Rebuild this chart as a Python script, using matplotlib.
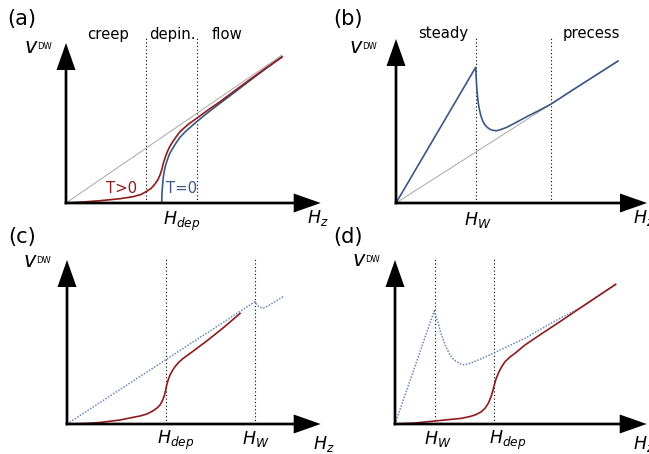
import matplotlib
matplotlib.use("Agg")
from matplotlib import pyplot as plt

# field / velocity values (arbitrary units, origin at axis corner)
# (a) creep / depinning / flow
a_lin_x = [0.0, 2.16]
a_lin_y = [0.0, 1.48]
a_hot_x = [0.0, 0.17, 0.34, 0.54, 0.67, 0.75, 0.80, 0.85, 0.89, 0.92, 0.94, 0.96, 0.973,
           0.99, 1.007, 1.03, 1.057, 1.10, 1.14, 1.22, 1.307, 1.42, 1.54, 1.69, 1.84, 2.0, 2.16]
a_hot_y = [0.0, 0.01, 0.023, 0.043, 0.063, 0.085, 0.113, 0.145, 0.19, 0.235, 0.28, 0.34, 0.397,
           0.45, 0.497, 0.55, 0.597, 0.66, 0.713, 0.785, 0.847, 0.93, 1.013, 1.125, 1.235, 1.35, 1.46]
a_cold_x = [0.957, 0.958, 0.96, 0.965, 0.972, 0.983, 0.997, 1.013, 1.035, 1.057, 1.10,
            1.14, 1.20, 1.307, 1.42, 1.54, 1.69, 1.84, 2.0, 2.16]
a_cold_y = [0.0, 0.05, 0.10, 0.17, 0.25, 0.32, 0.38, 0.43, 0.49, 0.53, 0.60,
            0.657, 0.72, 0.813, 0.905, 0.997, 1.11, 1.225, 1.345, 1.46]
a_bounds = [0.797, 1.313]

# (b) steady / precessional
b_lin_x = [0.0, 2.22]
b_lin_y = [0.0, 1.417]
b_v_x = [0.0, 0.797, 0.802, 0.807, 0.815, 0.823, 0.835, 0.847, 0.865, 0.89, 0.915, 0.94,
         0.97, 1.007, 1.05, 1.107, 1.20, 1.307, 1.42, 1.547, 1.74, 2.22]
b_v_y = [0.0, 1.357, 1.25, 1.163, 1.07, 0.997, 0.93, 0.88, 0.825, 0.78, 0.755, 0.737,
         0.726, 0.723, 0.735, 0.757, 0.805, 0.863, 0.92, 0.987, 1.113, 1.42]
b_bounds = [0.797, 1.547]

# (c) H_dep < H_W
c_flow_x = [0.0, 1.88, 1.90, 1.93, 1.963, 2.01, 2.17]
c_flow_y = [0.0, 1.223, 1.19, 1.165, 1.16, 1.18, 1.28]
c_hot_x = [0.0, 0.18, 0.33, 0.53, 0.663, 0.73, 0.80, 0.863, 0.90, 0.93, 0.95, 0.97,
           0.985, 0.997, 1.012, 1.03, 1.055, 1.08, 1.12, 1.163, 1.25, 1.397, 1.56, 1.73]
c_hot_y = [0.0, 0.005, 0.015, 0.04, 0.067, 0.08, 0.10, 0.133, 0.16, 0.19, 0.225, 0.273,
           0.33, 0.39, 0.44, 0.49, 0.535, 0.573, 0.62, 0.657, 0.72, 0.83, 0.96, 1.105]
c_bounds = [0.987, 1.88]

# (d) H_W < H_dep
d_flow_x = [0.0, 0.393, 0.41, 0.433, 0.455, 0.483, 0.515, 0.55, 0.585, 0.617, 0.65,
            0.683, 0.72, 0.767, 0.88, 0.993, 1.30, 1.60, 1.867, 2.207]
d_flow_y = [0.0, 1.133, 1.07, 1.007, 0.92, 0.84, 0.76, 0.69, 0.645, 0.623, 0.603,
            0.593, 0.598, 0.613, 0.66, 0.713, 0.857, 1.03, 1.17, 1.397]
d_hot_x = [0.0, 0.2, 0.40, 0.55, 0.667, 0.75, 0.80, 0.86, 0.90, 0.935, 0.96, 0.978,
           0.993, 1.01, 1.033, 1.065, 1.10, 1.15, 1.20, 1.30, 1.467, 1.667, 1.867, 2.207]
d_hot_y = [0.0, 0.01, 0.03, 0.045, 0.057, 0.075, 0.09, 0.12, 0.157, 0.21, 0.273, 0.33,
           0.39, 0.45, 0.507, 0.57, 0.623, 0.67, 0.707, 0.79, 0.903, 1.035, 1.17, 1.397]
d_bounds = [0.397, 0.993]

RED = "#8e1b1b"
BLUE = "#3b5788"
LIGHTBLUE = "#6a88b8"
GREY = "#9a9a9a"

fig = plt.figure(figsize=(6.49, 4.54), dpi=100)
W, H = 649.0, 454.0


def panel(px0, py0, ox, oy):
    # px0/py0: top-left pixel of the quarter, ox/oy: pixel of the axis corner
    ax = fig.add_axes([px0 / W, 1 - (py0 + 227) / H, 324.5 / W, 227 / H])
    ax.set_xlim((px0 - ox) / 100, (px0 + 324.5 - ox) / 100)
    ax.set_ylim((oy - py0 - 227) / 100, (oy - py0) / 100)
    ax.axis("off")
    return ax


def arrows(ax, xtip, ytip):
    kw = dict(width=0.027, head_width=0.19, head_length=0.27,
              length_includes_head=True, fc="k", ec="none", zorder=5)
    ax.arrow(-0.0135, 0, xtip + 0.0135, 0, **kw)
    ax.arrow(0, -0.0135, 0, ytip + 0.0135, **kw)


def vdw(ax, x, y):
    ax.text(x, y, "$v$", fontsize=15, ha="center", va="baseline")
    ax.text(x + 0.06, y + 0.04, "DW", fontsize=6, ha="left", va="baseline")


def bounds(ax, xs, top):
    for xb in xs:
        ax.plot([xb, xb], [0, top], color="k", lw=0.8, ls=(0, (1, 2.2)))


def hlabel(ax, x, y, s):
    ax.text(x, y, s, fontsize=12.5, ha="left", va="baseline")


# (a)
ax = panel(0, 0, 66, 203)
arrows(ax, 2.547, 1.60)
bounds(ax, a_bounds, 1.65)
ax.plot(a_lin_x, a_lin_y, color=GREY, lw=0.6)
ax.plot(a_cold_x, a_cold_y, color=BLUE, lw=1.2)
ax.plot(a_hot_x, a_hot_y, color=RED, lw=1.2)
ax.text(-0.44, 1.84, "(a)", fontsize=15, ha="center", va="center")
for s, xc in zip(["creep", "depin.", "flow"], [0.42, 1.06, 1.605]):
    ax.text(xc, 1.637, s, fontsize=10.7, ha="center", va="baseline")
ax.text(0.555, 0.145, "T>0", fontsize=10.7, color=RED, ha="center", va="center")
ax.text(1.16, 0.145, "T=0", fontsize=10.7, color=BLUE, ha="center", va="center")
vdw(ax, -0.35, 1.50)
hlabel(ax, 0.97, -0.22, "$H_{dep}$")
hlabel(ax, 2.41, -0.20, "$H_z$")

# (b)
ax = panel(324.5, 0, 396, 203)
arrows(ax, 2.51, 1.64)
bounds(ax, b_bounds, 1.65)
ax.plot(b_lin_x, b_lin_y, color=GREY, lw=0.6)
ax.plot(b_v_x, b_v_y, color=BLUE, lw=1.2)
ax.text(-0.48, 1.84, "(b)", fontsize=15, ha="center", va="center")
for s, xc in zip(["steady", "precess"], [0.47, 1.95]):
    ax.text(xc, 1.647, s, fontsize=10.7, ha="center", va="baseline")
vdw(ax, -0.395, 1.50)
hlabel(ax, 0.683, -0.22, "$H_W$")
hlabel(ax, 2.367, -0.20, "$H_z$")

# (c)
ax = panel(0, 227, 67, 424)
arrows(ax, 2.537, 1.64)
bounds(ax, c_bounds, 1.663)
ax.plot(c_flow_x, c_flow_y, color=LIGHTBLUE, lw=1.1, ls=(0, (1, 1)))
ax.plot(c_hot_x, c_hot_y, color=RED, lw=1.2)
ax.text(-0.45, 1.87, "(c)", fontsize=15, ha="center", va="center")
vdw(ax, -0.37, 1.57)
hlabel(ax, 0.897, -0.197, "$H_{dep}$")
hlabel(ax, 1.747, -0.197, "$H_W$")
hlabel(ax, 2.46, -0.245, "$H_z$")

# (d)
ax = panel(324.5, 227, 395, 424)
arrows(ax, 2.517, 1.64)
bounds(ax, d_bounds, 1.663)
ax.plot(d_flow_x, d_flow_y, color=LIGHTBLUE, lw=1.1, ls=(0, (1, 1)))
ax.plot(d_hot_x, d_hot_y, color=RED, lw=1.2)
ax.text(-0.47, 1.87, "(d)", fontsize=15, ha="center", va="center")
vdw(ax, -0.36, 1.577)
hlabel(ax, 0.293, -0.197, "$H_W$")
hlabel(ax, 0.943, -0.197, "$H_{dep}$")
hlabel(ax, 2.38, -0.245, "$H_z$")

fig.savefig("out.png", dpi=100)
